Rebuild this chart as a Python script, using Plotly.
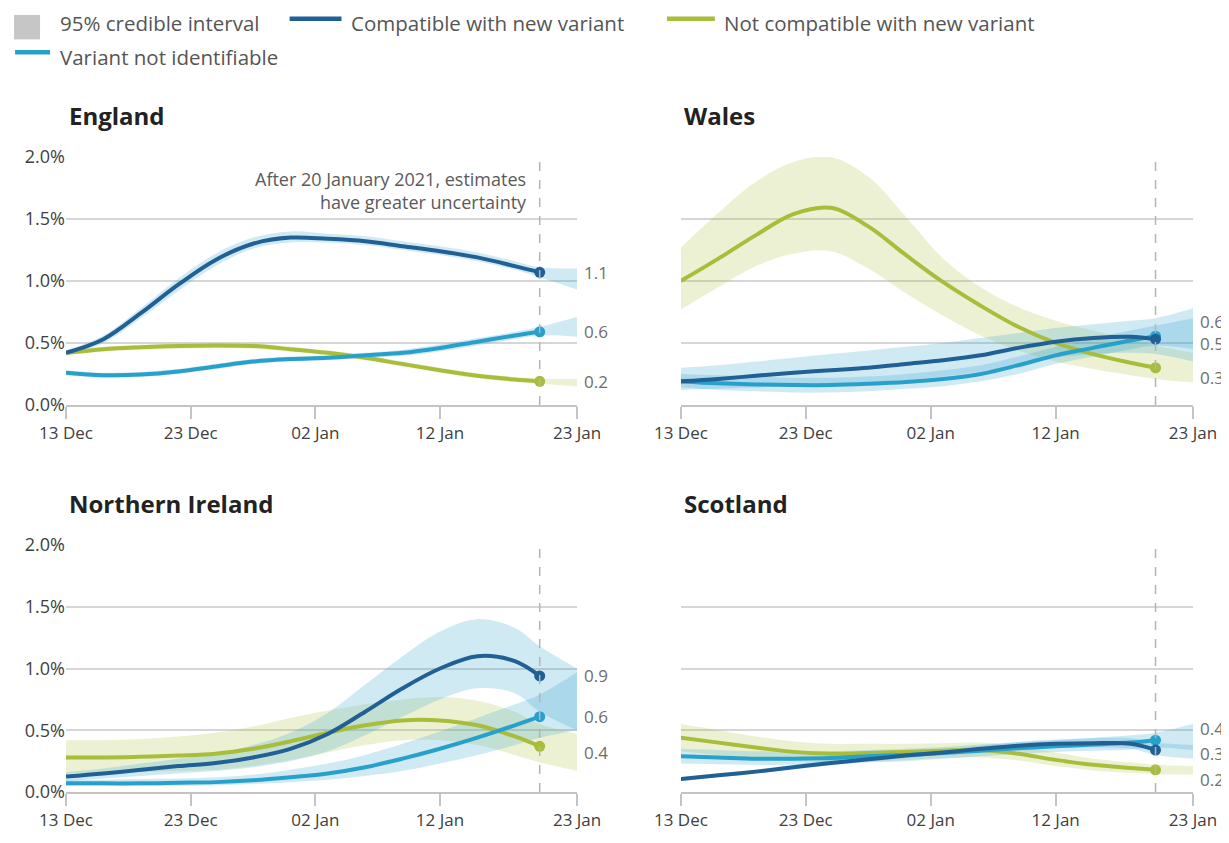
import plotly.graph_objects as go

# ---------------- DATA ----------------
dates = ["2020-12-13", "2020-12-16", "2020-12-19", "2020-12-22", "2020-12-25",
         "2020-12-28", "2020-12-31", "2021-01-03", "2021-01-06", "2021-01-09",
         "2021-01-12", "2021-01-15", "2021-01-18", "2021-01-20"]
band_dates = dates + ["2021-01-23"]

tick_vals = ["2020-12-13", "2020-12-23", "2021-01-02", "2021-01-12", "2021-01-23"]
tick_text = ["13 Dec", "23 Dec", "02 Jan", "12 Jan", "23 Jan"]
y_ticks = [0, 0.5, 1.0, 1.5, 2.0]
y_tick_text = ["0.0%", "0.5%", "1.0%", "1.5%", "2.0%"]

regions = ["England", "Wales", "Northern Ireland", "Scotland"]
series_names = ["Not compatible with new variant", "Variant not identifiable",
                "Compatible with new variant"]

# England
eng_notcompat = [0.42, 0.45, 0.465, 0.475, 0.48, 0.475, 0.45, 0.42, 0.38, 0.33, 0.28, 0.235, 0.205, 0.19]
eng_notcompat_hi = [0.44, 0.47, 0.485, 0.495, 0.50, 0.495, 0.47, 0.44, 0.40, 0.35, 0.30, 0.255, 0.225, 0.21, 0.21]
eng_notcompat_lo = [0.40, 0.43, 0.445, 0.455, 0.46, 0.455, 0.43, 0.40, 0.36, 0.31, 0.26, 0.215, 0.185, 0.17, 0.15]
eng_notid = [0.26, 0.24, 0.245, 0.27, 0.31, 0.35, 0.37, 0.38, 0.40, 0.42, 0.46, 0.51, 0.56, 0.59]
eng_notid_hi = [0.28, 0.26, 0.265, 0.29, 0.33, 0.37, 0.39, 0.40, 0.42, 0.445, 0.49, 0.54, 0.59, 0.63, 0.71]
eng_notid_lo = [0.24, 0.22, 0.225, 0.25, 0.29, 0.33, 0.35, 0.36, 0.38, 0.395, 0.43, 0.48, 0.53, 0.56, 0.55]
eng_compat = [0.42, 0.53, 0.74, 0.97, 1.17, 1.30, 1.35, 1.34, 1.32, 1.28, 1.24, 1.19, 1.12, 1.07]
eng_compat_hi = [0.44, 0.56, 0.78, 1.02, 1.22, 1.35, 1.40, 1.38, 1.36, 1.32, 1.28, 1.23, 1.16, 1.11, 1.10]
eng_compat_lo = [0.40, 0.50, 0.70, 0.92, 1.12, 1.26, 1.31, 1.31, 1.29, 1.25, 1.21, 1.16, 1.09, 1.03, 0.93]

# Wales
wal_notcompat = [1.00, 1.18, 1.37, 1.54, 1.59, 1.44, 1.21, 0.99, 0.80, 0.63, 0.50, 0.41, 0.34, 0.30]
wal_notcompat_hi = [1.27, 1.55, 1.80, 1.96, 2.00, 1.84, 1.52, 1.18, 0.95, 0.79, 0.68, 0.60, 0.53, 0.48, 0.42]
wal_notcompat_lo = [0.77, 0.95, 1.12, 1.22, 1.24, 1.10, 0.90, 0.72, 0.56, 0.44, 0.35, 0.29, 0.24, 0.21, 0.18]
wal_notid = [0.19, 0.175, 0.165, 0.16, 0.16, 0.17, 0.185, 0.21, 0.25, 0.32, 0.40, 0.46, 0.52, 0.555]
wal_notid_hi = [0.25, 0.24, 0.23, 0.22, 0.22, 0.23, 0.25, 0.28, 0.32, 0.39, 0.47, 0.54, 0.60, 0.64, 0.70]
wal_notid_lo = [0.14, 0.12, 0.11, 0.10, 0.10, 0.11, 0.13, 0.15, 0.19, 0.25, 0.33, 0.39, 0.45, 0.48, 0.45]
wal_compat = [0.19, 0.21, 0.235, 0.26, 0.28, 0.30, 0.33, 0.36, 0.40, 0.46, 0.51, 0.54, 0.55, 0.53]
wal_compat_hi = [0.30, 0.32, 0.35, 0.38, 0.41, 0.44, 0.47, 0.50, 0.54, 0.58, 0.62, 0.65, 0.68, 0.70, 0.78]
wal_compat_lo = [0.12, 0.13, 0.14, 0.15, 0.16, 0.18, 0.20, 0.23, 0.27, 0.32, 0.38, 0.41, 0.42, 0.41, 0.35]

# Northern Ireland
ni_notcompat = [0.28, 0.28, 0.285, 0.295, 0.31, 0.35, 0.41, 0.48, 0.54, 0.58, 0.58, 0.54, 0.45, 0.37]
ni_notcompat_hi = [0.42, 0.42, 0.43, 0.45, 0.48, 0.53, 0.60, 0.66, 0.71, 0.75, 0.77, 0.74, 0.65, 0.55, 0.47]
ni_notcompat_lo = [0.15, 0.15, 0.16, 0.17, 0.18, 0.21, 0.26, 0.32, 0.38, 0.42, 0.42, 0.38, 0.30, 0.24, 0.17]
ni_notid = [0.07, 0.07, 0.07, 0.075, 0.08, 0.095, 0.12, 0.15, 0.20, 0.27, 0.35, 0.44, 0.54, 0.61]
ni_notid_hi = [0.10, 0.10, 0.105, 0.11, 0.12, 0.14, 0.18, 0.23, 0.30, 0.39, 0.49, 0.60, 0.71, 0.79, 0.97]
ni_notid_lo = [0.05, 0.05, 0.05, 0.05, 0.055, 0.065, 0.08, 0.10, 0.13, 0.17, 0.23, 0.30, 0.38, 0.44, 0.50]
ni_compat = [0.125, 0.15, 0.18, 0.21, 0.235, 0.28, 0.35, 0.47, 0.65, 0.84, 1.00, 1.10, 1.06, 0.94]
ni_compat_hi = [0.16, 0.19, 0.23, 0.27, 0.31, 0.38, 0.48, 0.64, 0.87, 1.10, 1.30, 1.40, 1.33, 1.18, 1.00]
ni_compat_lo = [0.09, 0.11, 0.13, 0.15, 0.17, 0.20, 0.25, 0.33, 0.46, 0.61, 0.75, 0.84, 0.80, 0.65, 0.50]

# Scotland
sco_notcompat = [0.44, 0.40, 0.36, 0.325, 0.31, 0.315, 0.325, 0.335, 0.34, 0.31, 0.26, 0.22, 0.195, 0.18]
sco_notcompat_hi = [0.55, 0.50, 0.45, 0.41, 0.39, 0.39, 0.39, 0.395, 0.40, 0.37, 0.32, 0.27, 0.24, 0.22, 0.21]
sco_notcompat_lo = [0.33, 0.30, 0.27, 0.25, 0.24, 0.245, 0.26, 0.275, 0.28, 0.255, 0.21, 0.175, 0.155, 0.145, 0.14]
sco_notid = [0.29, 0.28, 0.27, 0.27, 0.275, 0.29, 0.30, 0.315, 0.335, 0.355, 0.37, 0.385, 0.40, 0.42]
sco_notid_hi = [0.35, 0.34, 0.33, 0.33, 0.33, 0.34, 0.35, 0.365, 0.385, 0.405, 0.42, 0.44, 0.46, 0.48, 0.55]
sco_notid_lo = [0.23, 0.225, 0.22, 0.22, 0.225, 0.24, 0.25, 0.27, 0.29, 0.31, 0.325, 0.335, 0.345, 0.36, 0.34]
sco_compat = [0.105, 0.135, 0.165, 0.20, 0.235, 0.265, 0.295, 0.32, 0.35, 0.375, 0.39, 0.395, 0.39, 0.34]
sco_compat_hi = [0.12, 0.15, 0.18, 0.22, 0.26, 0.29, 0.32, 0.345, 0.375, 0.405, 0.425, 0.435, 0.435, 0.40, 0.38]
sco_compat_lo = [0.09, 0.12, 0.15, 0.185, 0.215, 0.245, 0.275, 0.30, 0.325, 0.35, 0.36, 0.36, 0.35, 0.30, 0.27]

# ---------------- STYLE / LAYOUT ----------------
OFF = 8                      # page body margin in the browser
W, H = 1229 - OFF, 843 - OFF
ML, MR, MT, MB = 66 - OFF, 34, 157 - OFF, 38
PW = W - ML - MR
PH = H - MT - MB


def px(sx):
    """screen x (reference pixels) -> paper x"""
    return (sx - OFF - ML) / PW


def py(sy):
    """screen y (reference pixels) -> paper y"""
    return (H - MB - (sy - OFF)) / PH


FONT = "Open Sans"
TXT = "#404040"
GRID = "#d6d6d6"
C_COMPAT = "#206095"
C_NOTID = "#27a0cc"
C_NOTCOMPAT = "#a8bd3a"
BAND_BLUE = "rgba(39,160,204,0.22)"
BAND_GREEN = "rgba(168,189,58,0.22)"

panel_data = {
    "England": [(eng_notcompat, eng_notcompat_hi, eng_notcompat_lo),
                (eng_notid, eng_notid_hi, eng_notid_lo),
                (eng_compat, eng_compat_hi, eng_compat_lo)],
    "Wales": [(wal_notcompat, wal_notcompat_hi, wal_notcompat_lo),
              (wal_notid, wal_notid_hi, wal_notid_lo),
              (wal_compat, wal_compat_hi, wal_compat_lo)],
    "Northern Ireland": [(ni_notcompat, ni_notcompat_hi, ni_notcompat_lo),
                         (ni_notid, ni_notid_hi, ni_notid_lo),
                         (ni_compat, ni_compat_hi, ni_compat_lo)],
    "Scotland": [(sco_notcompat, sco_notcompat_hi, sco_notcompat_lo),
                 (sco_notid, sco_notid_hi, sco_notid_lo),
                 (sco_compat, sco_compat_hi, sco_compat_lo)],
}
line_colors = [C_NOTCOMPAT, C_NOTID, C_COMPAT]
band_colors = [BAND_GREEN, BAND_BLUE, BAND_BLUE]

# label vertical nudges (px, + = up) to avoid overlaps; order: notcompat, notid, compat
label_shift = {
    "England": [0, 0, 0],
    "Wales": [-10, 15, -4],
    "Northern Ireland": [-6, 0, 0],
    "Scotland": [-10, 12, -3],
}

# panel geometry (screen pixels of the reference)
col_x = [(66, 578), (682, 1195)]
row_y = [(157, 410), (553, 805)]

fig = go.Figure()
layout_axes = {}
annotations = []
shapes = []

for i, region in enumerate(regions):
    r, c = divmod(i, 2)
    n = i + 1
    xa = "x" if n == 1 else f"x{n}"
    ya = "y" if n == 1 else f"y{n}"
    xkey = "xaxis" if n == 1 else f"xaxis{n}"
    ykey = "yaxis" if n == 1 else f"yaxis{n}"

    layout_axes[xkey] = dict(
        domain=[px(col_x[c][0]), px(col_x[c][1])],
        anchor=ya, type="date",
        range=["2020-12-13", "2021-01-23"],
        tickvals=tick_vals, ticktext=tick_text,
        showgrid=False, showline=True, linecolor="#c4c4c4", linewidth=1.5,
        ticks="outside", ticklen=12, tickcolor="#c4c4c4", tickwidth=1.5,
        tickfont=dict(family=FONT, size=17, color=TXT),
        zeroline=False, fixedrange=True,
    )
    layout_axes[ykey] = dict(
        domain=[py(row_y[r][1]), py(row_y[r][0])],
        anchor=xa, range=[0, 2.0],
        tickvals=y_ticks, ticktext=y_tick_text,
        showticklabels=(c == 0),
        showgrid=True, gridcolor=GRID, gridwidth=1.5,
        zeroline=False, showline=False, ticks="",
        tickfont=dict(family=FONT, size=18, color=TXT),
        fixedrange=True,
    )

    # bands
    for (vals, hi, lo), bc in zip(panel_data[region], band_colors):
        fig.add_trace(go.Scatter(x=band_dates, y=lo, mode="lines",
                                 line=dict(width=0, shape="spline", smoothing=1.0),
                                 xaxis=xa, yaxis=ya, showlegend=False, hoverinfo="skip"))
        fig.add_trace(go.Scatter(x=band_dates, y=hi, mode="lines", fill="tonexty",
                                 fillcolor=bc,
                                 line=dict(width=0, shape="spline", smoothing=1.0),
                                 xaxis=xa, yaxis=ya, showlegend=False, hoverinfo="skip"))
    # lines
    for (vals, hi, lo), lc, name in zip(panel_data[region], line_colors, series_names):
        fig.add_trace(go.Scatter(x=dates, y=vals, mode="lines", name=name,
                                 line=dict(color=lc, width=4, shape="spline", smoothing=1.0),
                                 xaxis=xa, yaxis=ya, showlegend=False))
        fig.add_trace(go.Scatter(x=[dates[-1]], y=[vals[-1]], mode="markers",
                                 marker=dict(color=lc, size=11),
                                 xaxis=xa, yaxis=ya, showlegend=False, hoverinfo="skip"))
    # end labels
    for (vals, hi, lo), sh in zip(panel_data[region], label_shift[region]):
        annotations.append(dict(
            x="2021-01-23", y=vals[-1], xref=xa, yref=ya,
            text=f"{vals[-1]:.1f}", showarrow=False, xanchor="left", yanchor="middle",
            xshift=5, yshift=sh, font=dict(family=FONT, size=17, color="#6e6e6e")))

    # dashed line at 20 January
    shapes.append(dict(type="line", xref=xa, yref=f"{ya} domain",
                       x0="2021-01-20", x1="2021-01-20", y0=0, y1=1,
                       line=dict(color="#b4b4b4", width=1.5, dash="dash")))

    # panel title
    annotations.append(dict(
        x=px(col_x[c][0] + 1), y=py(row_y[r][0] - 42), xref="paper", yref="paper",
        text=f"<b>{region}</b>", showarrow=False, xanchor="left", yanchor="middle",
        font=dict(family=FONT, size=24, color="#222222")))

# note in England panel
annotations.append(dict(
    x="2021-01-20", y=py(191), xref="x", yref="paper",
    text="After 20 January 2021, estimates<br>have greater uncertainty",
    showarrow=False, xanchor="right", yanchor="middle", align="right", xshift=-11,
    font=dict(family=FONT, size=18, color="#5a5a5a")))

# legend (drawn manually to match the reference placement)
shapes.append(dict(type="rect", xref="paper", yref="paper",
                   x0=px(14), x1=px(40), y0=py(37), y1=py(12),
                   fillcolor="#c6c6c6", line=dict(width=0)))
legend_lines = [
    (290, 342, 16, C_COMPAT),
    (668, 716, 16, C_NOTCOMPAT),
    (15, 50, 50, C_NOTID),
]
for x0, x1, yy, col in legend_lines:
    shapes.append(dict(type="line", xref="paper", yref="paper",
                       x0=px(x0), x1=px(x1), y0=py(yy), y1=py(yy),
                       line=dict(color=col, width=4.5)))
legend_texts = [
    (58, 20, "95% credible interval"),
    (350, 20, "Compatible with new variant"),
    (723, 20, "Not compatible with new variant"),
    (58, 55, "Variant not identifiable"),
]
for xx, yy, t in legend_texts:
    annotations.append(dict(x=px(xx), y=py(yy), xref="paper", yref="paper",
                            text=t, showarrow=False, xanchor="left", yanchor="middle",
                            font=dict(family=FONT, size=20.5, color="#555555")))

fig.update_layout(
    width=W, height=H,
    margin=dict(l=ML, r=MR, t=MT, b=MB, pad=0),
    paper_bgcolor="white", plot_bgcolor="white",
    font=dict(family=FONT, color=TXT),
    showlegend=False,
    annotations=annotations,
    shapes=shapes,
    **layout_axes,
)

fig.write_html("out.html")
